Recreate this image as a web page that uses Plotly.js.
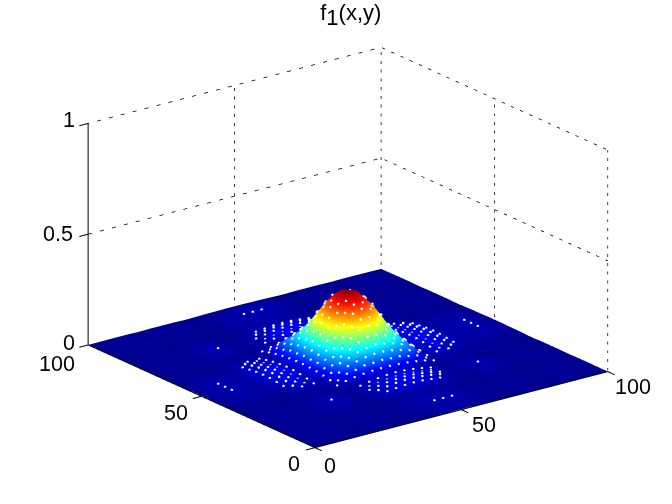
<!DOCTYPE html>
<html>
<head>
<meta charset="utf-8">
<script src="https://cdn.plot.ly/plotly-3.0.1.min.js"></script>
<style>
html, body { margin: 0; padding: 0; background: #fff; }
#chart { width: 672px; height: 504px; }
</style>
</head>
<body>
<div id="chart"></div>
<script>
// Surface samples (grid is finer around the peak)
const gridX = [0, 8, 13, 17, 21, 25, 29, 32, 35, 38, 41, 44, 47, 50, 53, 56, 59, 62, 65, 68, 71, 75, 79, 83, 87, 92, 100];
const gridY = [0, 8, 13, 17, 21, 25, 29, 32, 35, 38, 41, 44, 47, 50, 53, 56, 59, 62, 65, 68, 71, 75, 79, 83, 87, 92, 100];

// z in thousandths, one row per gridY value
const zMilli = [
    [0,1,1,0,1,1,1,0,0,1,2,2,3,3,3,2,2,1,0,0,1,1,1,0,1,1,0],
    [1,4,3,1,3,4,3,1,2,5,7,10,12,12,12,10,7,5,2,1,3,4,3,1,3,4,1],
    [1,3,2,1,2,3,2,1,2,3,6,7,9,9,9,7,6,3,2,1,2,3,2,1,2,3,1],
    [0,1,1,1,2,3,2,0,1,2,4,5,6,6,6,5,4,2,1,0,2,3,2,1,1,1,0],
    [1,3,2,2,7,9,6,1,4,8,13,17,21,22,21,17,13,8,4,1,6,9,7,2,2,3,1],
    [1,4,3,3,9,12,8,2,5,11,19,25,29,31,29,25,19,11,5,2,8,12,9,3,3,4,1],
    [1,3,2,2,6,8,6,2,5,11,19,25,29,31,29,25,19,11,5,2,6,8,6,2,2,3,1],
    [0,1,1,0,1,2,2,1,5,6,8,9,10,10,10,9,8,6,5,1,2,2,1,0,1,1,0],
    [0,2,2,1,4,5,5,5,18,38,45,55,56,59,56,55,45,38,18,5,5,5,4,1,2,2,0],
    [1,5,3,2,8,11,11,6,38,72,85,100,109,115,109,100,85,72,38,6,11,11,8,2,3,5,1],
    [2,7,6,4,13,19,19,8,45,85,115,149,177,186,177,149,115,85,45,8,19,19,13,4,6,7,2],
    [2,10,7,5,17,25,25,9,55,100,149,198,236,248,236,198,149,100,55,9,25,25,17,5,7,10,2],
    [3,12,9,6,21,29,29,10,56,109,177,236,280,295,280,236,177,109,56,10,29,29,21,6,9,12,3],
    [3,12,9,6,22,31,31,10,59,115,186,248,295,310,295,248,186,115,59,10,31,31,22,6,9,12,3],
    [3,12,9,6,21,29,29,10,56,109,177,236,280,295,280,236,177,109,56,10,29,29,21,6,9,12,3],
    [2,10,7,5,17,25,25,9,55,100,149,198,236,248,236,198,149,100,55,9,25,25,17,5,7,10,2],
    [2,7,6,4,13,19,19,8,45,85,115,149,177,186,177,149,115,85,45,8,19,19,13,4,6,7,2],
    [1,5,3,2,8,11,11,6,38,72,85,100,109,115,109,100,85,72,38,6,11,11,8,2,3,5,1],
    [0,2,2,1,4,5,5,5,18,38,45,55,56,59,56,55,45,38,18,5,5,5,4,1,2,2,0],
    [0,1,1,0,1,2,2,1,5,6,8,9,10,10,10,9,8,6,5,1,2,2,1,0,1,1,0],
    [1,3,2,2,6,8,6,2,5,11,19,25,29,31,29,25,19,11,5,2,6,8,6,2,2,3,1],
    [1,4,3,3,9,12,8,2,5,11,19,25,29,31,29,25,19,11,5,2,8,12,9,3,3,4,1],
    [1,3,2,2,7,9,6,1,4,8,13,17,21,22,21,17,13,8,4,1,6,9,7,2,2,3,1],
    [0,1,1,1,2,3,2,0,1,2,4,5,6,6,6,5,4,2,1,0,2,3,2,1,1,1,0],
    [1,3,2,1,2,3,2,1,2,3,6,7,9,9,9,7,6,3,2,1,2,3,2,1,2,3,1],
    [1,4,3,1,3,4,3,1,2,5,7,10,12,12,12,10,7,5,2,1,3,4,3,1,3,4,1],
    [0,1,1,0,1,1,1,0,0,1,2,2,3,3,3,2,2,1,0,0,1,1,1,0,1,1,0]
];

// extra samples between the grid lines of the main lobe, for the white specks
const speckGrid = [33.5, 36.5, 39.5, 42.5, 45.5, 48.5, 51.5, 54.5, 57.5, 60.5, 63.5, 66.5];
const speckMilli = [
    [7,17,24,29,32,34,34,32,29,24,17,7],
    [17,41,60,71,80,85,85,80,71,60,41,17],
    [24,60,89,112,134,147,147,134,112,89,60,24],
    [29,71,112,153,190,212,212,190,153,112,71,29],
    [32,80,134,190,238,265,265,238,190,134,80,32],
    [34,85,147,212,265,295,295,265,212,147,85,34],
    [34,85,147,212,265,295,295,265,212,147,85,34],
    [32,80,134,190,238,265,265,238,190,134,80,32],
    [29,71,112,153,190,212,212,190,153,112,71,29],
    [24,60,89,112,134,147,147,134,112,89,60,24],
    [17,41,60,71,80,85,85,80,71,60,41,17],
    [7,17,24,29,32,34,34,32,29,24,17,7]
];

// and the same for the four side lobes
const lobeNear = [23, 27, 73, 77];
const lobeWide = [39.5, 42.5, 45.5, 48.5, 51.5, 54.5, 57.5, 60.5];
const lobeAlongY = [
    [15,22,27,30,30,27,22,15],
    [13,18,23,26,26,23,18,13],
    [13,18,23,26,26,23,18,13],
    [15,22,27,30,30,27,22,15]
];
const lobeAlongX = [
    [15,13,13,15],
    [22,18,18,22],
    [27,23,23,27],
    [30,26,26,30],
    [30,26,26,30],
    [27,23,23,27],
    [22,18,18,22],
    [15,13,13,15]
];

const xyTicks = [0, 50, 100];
const zTicks = [0, 0.5, 1];
const titleText = 'f<sub><span style="font-size:22px">1</span></sub>(x,y)';

// MATLAB jet
const jet = [
    [0, '#00008f'], [0.11, '#0000ff'], [0.36, '#00ffff'],
    [0.61, '#ffff00'], [0.89, '#ff0000'], [1, '#800000']
];

const LABEL_FONT = { family: 'Liberation Sans, Arial, sans-serif', size: 21.5, color: '#000' };
const TICK_LEN = 3;

// line segments with null gaps, so a single trace can hold them all
function segments(list) {
    const out = { x: [], y: [], z: [] };
    list.forEach(seg => {
        seg.forEach(p => { out.x.push(p[0]); out.y.push(p[1]); out.z.push(p[2]); });
        out.x.push(null); out.y.push(null); out.z.push(null);
    });
    return out;
}

function lineTrace(list, dash, width) {
    const s = segments(list);
    return {
        type: 'scatter3d', mode: 'lines', x: s.x, y: s.y, z: s.z,
        line: { color: '#000', width: width, dash: dash },
        hoverinfo: 'skip', showlegend: false, connectgaps: false
    };
}

const dotted = [];
zTicks.slice(1).forEach(t => {
    dotted.push([[0, 100, t], [100, 100, t], [100, 0, t]]);
});
dotted.push([[100, 100, 0], [100, 100, 1]]);
dotted.push([[100, 0, 0], [100, 0, 1]]);
dotted.push([[50, 100, 0], [50, 100, 1]]);
dotted.push([[100, 50, 0], [100, 50, 1]]);

const solid = [
    [[0, 100, 1], [0, 100, 0], [0, 0, 0], [100, 0, 0]]
];
xyTicks.forEach(t => {
    solid.push([[t, 0, 0], [t, -TICK_LEN, 0]]);
    solid.push([[0, t, 0], [-TICK_LEN, t, 0]]);
});
zTicks.forEach(t => {
    solid.push([[0, 100, t], [-TICK_LEN, 100, t]]);
});

const surface = {
    type: 'surface',
    x: gridX, y: gridY,
    z: zMilli.map(r => r.map(v => v / 1000)),
    colorscale: jet, cmin: 0, cmax: 0.31,
    showscale: false, hoverinfo: 'skip',
    lighting: { ambient: 1, diffuse: 0, specular: 0, fresnel: 0, roughness: 1 }
};

// white specks where the mesh opens up on the slopes
const specks = { x: [], y: [], z: [] };
function addSpecks(xs, ys, rows, low, high) {
    rows.forEach((row, j) => row.forEach((v, i) => {
        if (v >= low && v <= high) {
            specks.x.push(xs[i]);
            specks.y.push(ys[j]);
            specks.z.push(v / 1000 + 0.003);
        }
    }));
}
addSpecks(gridX, gridY, zMilli, 11, 285);
addSpecks(speckGrid, speckGrid, speckMilli, 4, 285);
addSpecks(lobeWide, lobeNear, lobeAlongY, 4, 285);
addSpecks(lobeNear, lobeWide, lobeAlongX, 4, 285);

const speckTrace = {
    type: 'scatter3d', mode: 'markers',
    x: specks.x, y: specks.y, z: specks.z,
    marker: { color: '#fff', size: 1.5, opacity: 1, line: { width: 0 } },
    hoverinfo: 'skip', showlegend: false
};

function label(x, y, z, text, xshift, yshift) {
    return {
        x: x, y: y, z: z, text: text, showarrow: false,
        xshift: xshift, yshift: yshift, font: LABEL_FONT
    };
}

const annotations = [];
annotations.push(label(0, 100, 1, '1', -19, 3));
annotations.push(label(0, 100, 0.5, '0.5', -30, 0));
annotations.push(label(0, 100, 0, '0', -19, 2));
annotations.push(label(0, 100, 0, '100', -31, -19));
annotations.push(label(0, 50, 0, '50', -26, -17));
annotations.push(label(0, 0, 0, '0', -21, -16));
annotations.push(label(0, 0, 0, '0', 15, -18));
annotations.push(label(50, 0, 0, '50', 23, -15));
annotations.push(label(100, 0, 0, '100', 25, -15));

const hiddenAxis = { visible: false, showspikes: false };

const layout = {
    width: 672, height: 504,
    margin: { l: 0, r: 0, t: 0, b: 0 },
    paper_bgcolor: '#fff',
    showlegend: false,
    title: {
        text: titleText, x: 0.522, y: 0.99, xanchor: 'center', yanchor: 'top',
        font: { family: 'Liberation Sans, Arial, sans-serif', size: 22, color: '#000' }
    },
    scene: {
        domain: { x: [24 / 672, 1], y: [9 / 504, 1] },
        bgcolor: '#fff',
        xaxis: Object.assign({ range: [-4, 104] }, hiddenAxis),
        yaxis: Object.assign({ range: [-4, 104] }, hiddenAxis),
        zaxis: Object.assign({ range: [0, 1] }, hiddenAxis),
        aspectmode: 'manual',
        aspectratio: { x: 1.603, y: 1.639, z: 0.953 },
        camera: {
            projection: { type: 'orthographic' },
            eye: { x: -0.567 * 2, y: -0.749 * 2, z: 0.343 * 2 },
            center: { x: 0, y: 0, z: 0 },
            up: { x: 0, y: 0, z: 1 }
        },
        annotations: annotations
    }
};

Plotly.newPlot('chart', [surface, speckTrace, lineTrace(dotted, 'dot', 1.5), lineTrace(solid, 'solid', 2)], layout, { displayModeBar: false });
</script>
</body>
</html>
